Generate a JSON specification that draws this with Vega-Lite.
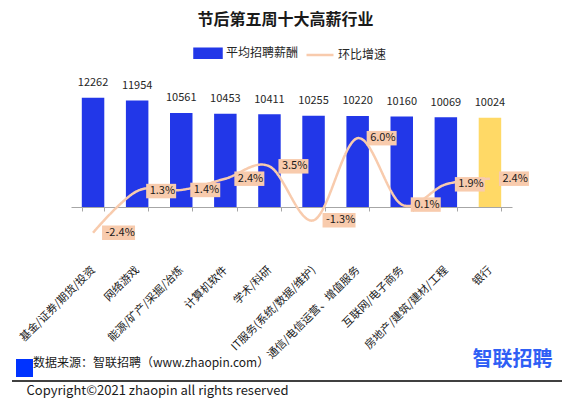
{
  "$schema": "https://vega.github.io/schema/vega-lite/v6.json",
  "width": 441,
  "height": 145,
  "autosize": {"type": "none"},
  "padding": {"left": 71, "top": 62, "right": 61, "bottom": 203},
  "background": "white",
  "config": {
    "view": {"stroke": null},
    "font": "Noto Sans CJK SC",
    "axis": {"grid": false},
    "locale": {"number": {"decimal": ".", "thousands": ",", "grouping": [3], "currency": ["", ""], "minus": "-"}}
  },
  "title": {
    "text": "节后第五周十大高薪行业",
    "font": "Noto Sans CJK SC",
    "fontSize": 16,
    "fontWeight": "bold",
    "color": "#1a1a1a",
    "anchor": "middle",
    "dx": -6,
    "offset": 10
  },
  "data": {
    "values": [
      {"行业": "基金/证券/期货/投资", "薪酬": 12262, "增速": -0.024},
      {"行业": "网络游戏", "薪酬": 11954, "增速": 0.013},
      {"行业": "能源/矿产/采掘/冶炼", "薪酬": 10561, "增速": 0.014},
      {"行业": "计算机软件", "薪酬": 10453, "增速": 0.024},
      {"行业": "学术/科研", "薪酬": 10411, "增速": 0.035},
      {"行业": "IT服务(系统/数据/维护)", "薪酬": 10255, "增速": -0.013},
      {"行业": "通信/电信运营、增值服务", "薪酬": 10220, "增速": 0.060},
      {"行业": "互联网/电子商务", "薪酬": 10160, "增速": 0.001},
      {"行业": "房地产/建筑/建材/工程", "薪酬": 10069, "增速": 0.019},
      {"行业": "银行", "薪酬": 10024, "增速": 0.024}
    ]
  },
  "layer": [
    {
      "encoding": {
        "x": {
          "field": "行业",
          "type": "nominal",
          "sort": null,
          "scale": {
            "domain": ["基金/证券/期货/投资", "网络游戏", "能源/矿产/采掘/冶炼", "计算机软件", "学术/科研", "IT服务(系统/数据/维护)", "通信/电信运营、增值服务", "互联网/电子商务", "房地产/建筑/建材/工程", "银行"],
            "paddingInner": 0.49,
            "paddingOuter": 0.245
          },
          "axis": {
            "title": null,
            "labelAngle": -45,
            "labelAlign": "right",
            "labelBaseline": "middle",
            "labelPadding": 57,
            "labelFontSize": 11,
            "labelFont": "Noto Sans CJK SC",
            "labelColor": "#1a1a1a",
            "labelLimit": 250,
            "tickBand": "extent",
            "tickSize": 4,
            "tickColor": "#a6a6a6",
            "domainColor": "#a6a6a6",
            "grid": false
          }
        },
        "y": {
          "field": "薪酬",
          "type": "quantitative",
          "scale": {"domain": [0, 16274], "nice": false, "zero": false},
          "axis": {
            "orient": "left",
            "labels": false,
            "ticks": false,
            "domain": false,
            "grid": false,
            "title": "Copyright©2021 zhaopin all rights reserved",
            "titleAngle": 0,
            "titleAlign": "left",
            "titleBaseline": "middle",
            "titleX": -45,
            "titleY": 328,
            "titleFont": "Noto Sans CJK SC",
            "titleFontSize": 13,
            "titleFontWeight": "normal",
            "titleColor": "#1a1a1a"
          }
        }
      },
      "layer": [
        {
          "mark": {"type": "bar"},
          "encoding": {
            "color": {
              "condition": {"test": "datum['行业'] === '银行'", "value": "#FFD966"},
              "datum": "平均招聘薪酬",
              "scale": {"domain": ["平均招聘薪酬", "环比增速"], "range": ["#2237E8", "#F8CBAD"]},
              "legend": {
                "orient": "none",
                "legendX": 122,
                "legendY": -24,
                "direction": "horizontal",
                "title": null,
                "values": ["平均招聘薪酬", "环比增速"],
                "symbolSize": 729,
                "labelOffset": 3,
                "columnPadding": 2,
                "labelFontSize": 12,
                "labelFont": "Noto Sans CJK SC",
                "labelColor": "#262626",
                "padding": 0,
                "encode": {
                  "symbols": {
                    "update": {
                      "shape": {"signal": "datum.value === '环比增速' ? 'M-1,0H1' : 'M-1,-0.333H1V0.333H-1Z'"},
                      "fill": {"signal": "datum.value === '环比增速' ? 'transparent' : '#2237E8'"},
                      "stroke": {"signal": "datum.value === '环比增速' ? '#F8CBAD' : 'transparent'"},
                      "strokeWidth": {"value": 2.5},
                      "opacity": {"value": 1}
                    }
                  }
                }
              }
            }
          }
        },
        {
          "mark": {"type": "text", "baseline": "alphabetic", "dy": -11.5, "fontSize": 11, "color": "#262626", "font": "Noto Sans CJK SC"},
          "encoding": {
            "text": {"field": "薪酬", "type": "quantitative", "format": "d"}
          }
        }
      ]
    },
    {
      "encoding": {
        "x": {
          "field": "行业",
          "type": "nominal",
          "sort": null,
          "scale": {
            "domain": ["基金/证券/期货/投资", "网络游戏", "能源/矿产/采掘/冶炼", "计算机软件", "学术/科研", "IT服务(系统/数据/维护)", "通信/电信运营、增值服务", "互联网/电子商务", "房地产/建筑/建材/工程", "银行"],
            "paddingInner": 0.49,
            "paddingOuter": 0.245
          },
          "axis": null
        },
        "y": {
          "field": "增速",
          "type": "quantitative",
          "scale": {"domain": [-0.001156, 0.1277], "nice": false, "zero": false},
          "axis": {
            "orient": "right",
            "labels": false,
            "ticks": false,
            "domain": false,
            "grid": false,
            "title": "智联招聘",
            "titleAngle": 0,
            "titleAlign": "center",
            "titleBaseline": "middle",
            "titleX": 0,
            "titleY": 297.5,
            "titleFont": "Noto Sans CJK SC",
            "titleFontSize": 20,
            "titleFontWeight": "bold",
            "titleColor": "#2F5FF5"
          }
        }
      },
      "layer": [
        {
          "mark": {"type": "line", "interpolate": "cardinal", "strokeWidth": 2.5},
          "encoding": {
            "color": {"datum": "环比增速"},
            "strokeDash": {
              "datum": "数据来源：智联招聘（www.zhaopin.com）",
              "scale": {"range": [[1, 0]]},
              "legend": {
                "orient": "none",
                "legendX": -55,
                "legendY": 292.5,
                "title": null,
                "symbolSize": 289,
                "symbolType": "M-1,-0.47H1V1.65H-1Z",
                "symbolFillColor": "#0033FF",
                "symbolStrokeColor": "#0033FF",
                "symbolStrokeWidth": 0,
                "labelOffset": 0,
                "labelFontSize": 12,
                "labelFont": "Noto Sans CJK SC",
                "labelColor": "#1a1a1a",
                "labelLimit": 400,
                "padding": 0,
                "encode": {
                  "symbols": {
                    "update": {
                      "shape": {"signal": "'M-1,-0.47H1V1.65H-1Z'"},
                      "fill": {"signal": "'#0033FF'"},
                      "stroke": {"signal": "'transparent'"},
                      "strokeWidth": {"signal": "0"},
                      "opacity": {"signal": "1"}
                    }
                  }
                }
              }
            }
          }
        },
        {
          "transform": [{"filter": "datum['增速'] >= 0"}],
          "mark": {"type": "point", "filled": true, "opacity": 1, "color": "#F8CBAD", "shape": "M-1,-0.483H1V0.483H-1Z", "size": 900, "xOffset": 24}
        },
        {
          "transform": [{"filter": "datum['增速'] < 0"}],
          "mark": {"type": "point", "filled": true, "opacity": 1, "color": "#F8CBAD", "shape": "M-1,-0.439H1V0.439H-1Z", "size": 1089, "xOffset": 25.5}
        },
        {
          "mark": {"type": "text", "align": "left", "baseline": "middle", "dx": 12.5, "fontSize": 11, "color": "#1a1a1a", "font": "Noto Sans CJK SC"},
          "encoding": {
            "text": {"field": "增速", "type": "quantitative", "format": ".1%"}
          }
        }
      ]
    },
    {
      "data": {"values": [{"k": 1}]},
      "mark": {"type": "rule", "color": "#000000", "strokeWidth": 1.3},
      "encoding": {
        "x": {"datum": -0.1338, "type": "quantitative", "scale": {"domain": [0, 1], "nice": false, "zero": false}, "axis": null},
        "x2": {"datum": 1.1134},
        "y": {"datum": -1.2, "type": "quantitative", "scale": {"domain": [0, 1], "nice": false, "zero": false}, "axis": null}
      }
    }
  ],
  "resolve": {"scale": {"x": "independent", "y": "independent"}}
}
